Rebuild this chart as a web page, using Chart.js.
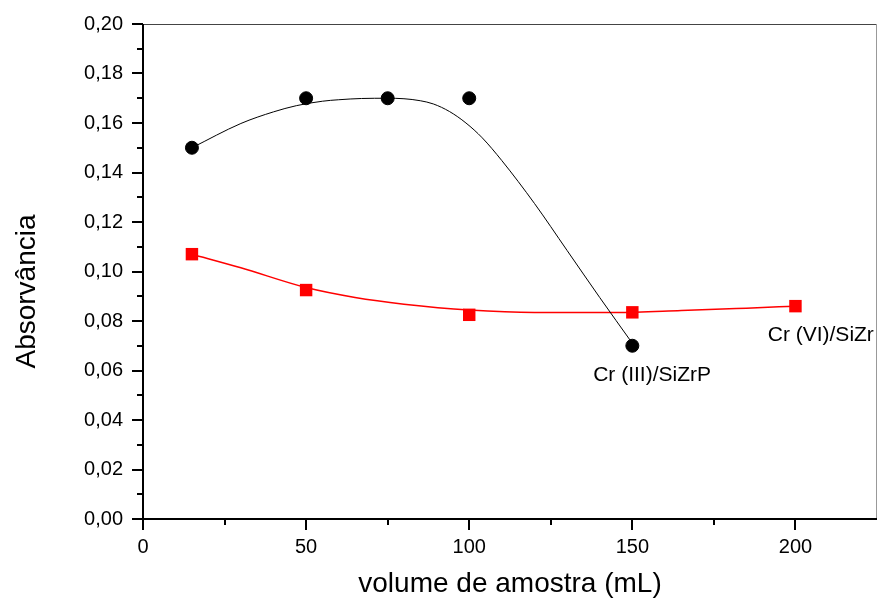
<!DOCTYPE html>
<html>
<head>
<meta charset="utf-8">
<script src="https://cdn.jsdelivr.net/npm/chart.js@4/dist/chart.umd.min.js"></script>
<style>
  html, body { margin: 0; padding: 0; background: #fff; }
  #wrap { width: 879px; height: 601px; }
</style>
</head>
<body>
<div id="wrap"><canvas id="grafico" width="879" height="601"></canvas></div>
<script>
// measured points
var cr3Volume = [15, 50, 75, 100, 150];
var cr3Abs = [0.150, 0.170, 0.170, 0.170, 0.070];
var cr6Volume = [15, 50, 100, 150, 200];
var cr6Abs = [0.107, 0.0925, 0.0825, 0.0835, 0.086];

// smoothed curves
var cr3CurveVolume = [15, 30, 40, 47, 55, 60, 67, 75, 80, 85, 89, 94, 99, 104, 110, 120, 130, 140, 150];
var cr3CurveAbs = [0.150, 0.1598, 0.1645, 0.1670, 0.1688, 0.1694, 0.1699, 0.1700, 0.1698, 0.1690, 0.1677, 0.1646, 0.1600, 0.1540, 0.1448, 0.1275, 0.1085, 0.0895, 0.0710];
var cr6CurveVolume = [15, 30, 50, 65, 80, 100, 120, 145, 165, 185, 200];
var cr6CurveAbs = [0.107, 0.1015, 0.0935, 0.0895, 0.0868, 0.0844, 0.0834, 0.0834, 0.0842, 0.0852, 0.086];

// text labels next to the curves
var seriesLabels = ["Cr (III)/SiZrP", "Cr (VI)/SiZr"];
var seriesLabelX = [138, 191.5];
var seriesLabelY = [0.058, 0.0743];

var xMin = 0, xMax = 225, xStep = 50;
var yMin = 0, yMax = 0.2, yStep = 0.02;

var fonte = "'Liberation Sans', Arial, sans-serif";

function pares(xs, ys) {
  return xs.map(function (v, i) { return { x: v, y: ys[i] }; });
}

var molduraEtextos = {
  id: 'molduraEtextos',
  beforeDatasetsDraw: function (chart) {
    var ctx = chart.ctx, a = chart.chartArea, sx = chart.scales.x, sy = chart.scales.y;
    ctx.save();
    ctx.lineWidth = 1;
    ctx.strokeStyle = '#444';
    ctx.beginPath(); ctx.moveTo(a.left, a.top + 0.5); ctx.lineTo(a.right, a.top + 0.5); ctx.stroke();
    ctx.strokeStyle = '#999';
    ctx.beginPath(); ctx.moveTo(a.right - 0.5, a.top); ctx.lineTo(a.right - 0.5, a.bottom); ctx.stroke();

    ctx.strokeStyle = '#000';
    ctx.lineWidth = 2;
    ctx.beginPath();
    ctx.moveTo(a.left, a.top); ctx.lineTo(a.left, a.bottom); ctx.lineTo(a.right, a.bottom);
    ctx.stroke();

    // ticks, major and minor, outward
    ctx.beginPath();
    for (var v = yMin; v <= yMax + 1e-9; v += yStep / 2) {
      var py = Math.round(sy.getPixelForValue(v));
      var major = Math.abs(Math.round(v / yStep) * yStep - v) < 1e-9;
      ctx.moveTo(a.left - (major ? 11 : 6), py);
      ctx.lineTo(a.left, py);
    }
    for (var u = xMin; u < xMax; u += xStep / 2) {
      var px = Math.round(sx.getPixelForValue(u));
      var maj = u % xStep === 0;
      ctx.moveTo(px, a.bottom);
      ctx.lineTo(px, a.bottom + (maj ? 11 : 6));
    }
    ctx.stroke();

    // y axis title
    ctx.fillStyle = '#000';
    ctx.font = '28px ' + fonte;
    ctx.textAlign = 'center';
    ctx.textBaseline = 'middle';
    ctx.translate(27, (a.top + a.bottom) / 2 + 20);
    ctx.rotate(-Math.PI / 2);
    ctx.fillText('Absorvância', 0, 0);
    ctx.restore();
  },
  afterDatasetsDraw: function (chart) {
    var ctx = chart.ctx, sx = chart.scales.x, sy = chart.scales.y;
    ctx.save();
    ctx.fillStyle = '#000';
    ctx.font = '21px ' + fonte;
    ctx.textAlign = 'left';
    ctx.textBaseline = 'middle';
    seriesLabels.forEach(function (t, i) {
      ctx.fillText(t, sx.getPixelForValue(seriesLabelX[i]), sy.getPixelForValue(seriesLabelY[i]));
    });
    ctx.restore();
  }
};

var ctx = document.getElementById('grafico').getContext('2d');
var grafico = new Chart(ctx, {
  type: 'scatter',
  data: {
    datasets: [{
        label: 'Cr (III) ajuste',
        type: 'line',
        data: pares(cr3CurveVolume, cr3CurveAbs),
        borderColor: '#000',
        borderWidth: 1,
        pointRadius: 0,
        cubicInterpolationMode: 'monotone',
        fill: false
      }, {
        label: 'Cr (VI) ajuste',
        type: 'line',
        data: pares(cr6CurveVolume, cr6CurveAbs),
        borderColor: '#ff0000',
        borderWidth: 1.5,
        pointRadius: 0,
        cubicInterpolationMode: 'monotone',
        fill: false
      }, {
        label: 'Cr (III)/SiZrP',
        data: pares(cr3Volume, cr3Abs),
        backgroundColor: '#000',
        borderColor: '#000',
        pointRadius: 6.5,
        pointStyle: 'circle'
      }, {
        label: 'Cr (VI)/SiZrP',
        data: pares(cr6Volume, cr6Abs),
        backgroundColor: '#ff0000',
        borderColor: '#ff0000',
        borderWidth: 0,
        pointRadius: 8.8,
        pointStyle: 'rect'
      }
    ]
  },
  options: {
    responsive: false,
    animation: false,
    events: [],
    layout: { autoPadding: false, padding: { top: 24, right: 2, left: 0, bottom: 0 } },
    plugins: {
      legend: { display: false },
      tooltip: { enabled: false }
    },
    scales: {
      x: {
        type: 'linear',
        min: xMin,
        max: xMax,
        afterFit: function (s) { s.height = 82; s.paddingLeft = 0; s.paddingRight = 0; },
        grid: { display: false, drawTicks: false },
        border: { display: false },
        ticks: {
          stepSize: xStep,
          includeBounds: false,
          padding: 16,
          color: '#000',
          font: { family: fonte, size: 20 },
          callback: function (v) { return String(v); }
        },
        title: {
          display: true,
          text: 'volume de amostra (mL)',
          color: '#000',
          padding: 0,
          font: { family: fonte, size: 28 }
        }
      },
      y: {
        min: yMin,
        max: yMax,
        afterFit: function (s) { s.width = 143; s.paddingTop = 0; s.paddingBottom = 0; },
        grid: { display: false, drawTicks: false },
        border: { display: false },
        ticks: {
          stepSize: yStep,
          padding: 20,
          color: '#000',
          font: { family: fonte, size: 20 },
          callback: function (v) { return v.toFixed(2).replace('.', ','); }
        }
      }
    }
  },
  plugins: [molduraEtextos]
});
</script>
</body>
</html>
